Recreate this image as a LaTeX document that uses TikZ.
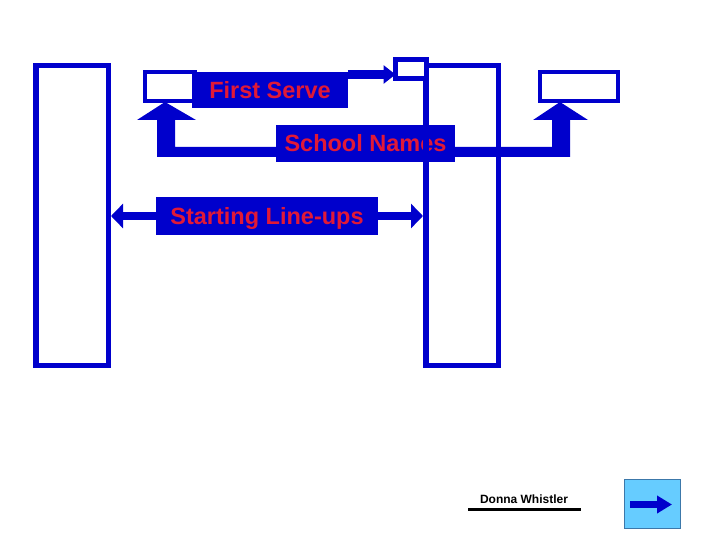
\documentclass[tikz,border=0pt]{standalone}
\usepackage{fontspec}
\setmainfont{Liberation Sans}
\usetikzlibrary{arrows.meta,calc}
\definecolor{pblue}{RGB}{0,0,204}
\definecolor{ptext}{RGB}{225,25,55}
\definecolor{btnfill}{RGB}{102,204,255}
\definecolor{btnedge}{RGB}{60,120,170}
\tikzset{
  tallbox/.style={draw=pblue, line width=5.5pt, minimum width=72.5pt, minimum height=299.5pt, inner sep=0pt, outer sep=2.75pt},
  smallbox/.style={draw=pblue, fill=white, line width=4pt, inner sep=0pt, outer sep=0pt},
  label/.style={fill=pblue, text=ptext, inner sep=0pt, outer sep=0pt, font=\bfseries\fontsize{23.5}{28}\selectfont, text height=17pt, text depth=0pt},
  blockarrow/.style={fill=pblue},
}
\begin{document}
\begin{tikzpicture}[x=1pt,y=-1pt]
\useasboundingbox (0,0) rectangle (720,540);
% small boxes
\node[smallbox, minimum width=50pt, minimum height=29pt] (lb) at (170,86.5) {};
\node[smallbox, minimum width=78pt, minimum height=29pt] (rb) at (579,86.5) {};
% First Serve label
\node[label, minimum width=156pt, minimum height=36pt] (fs) at (270,90) {First Serve};
% bracket block arrow
\fill[blockarrow] (157,157) -- (157,120) -- (137,120) -- (165,102) -- (196,120) -- (175,120)
  -- (175,147) -- (552,147) -- (552,120) -- (533,120) -- (560,102) -- (588,120) -- (570,120)
  -- (570,157) -- cycle;
% School Names label
\node[label, minimum width=179pt, minimum height=37pt] (sn) at (365.5,143.5) {School Names};
% tall rectangles
\node[tallbox] (lr) at (72,215.5) {};
\node[tallbox] (rr) at (462,215.5) {};
% top small box
\node[smallbox, line width=5pt, minimum width=31pt, minimum height=19pt] (tb) at (411,69) {};
% arrow First Serve -> top box
\coordinate (fsa) at ($(fs.north east)+(0,2.5)$);
\draw[pblue, line width=9pt, -{Triangle[width=18pt,length=12pt]}] (fsa) -- (fsa -| tb.west);
% Starting Line-ups
\coordinate (slc) at (267,216);
\draw[pblue, line width=8pt, {Triangle[width=24pt,length=12pt]}-{Triangle[width=24pt,length=12pt]}]
  (slc -| lr.east) -- (slc -| rr.west);
\node[label, minimum width=222pt, minimum height=38pt] (sl) at (slc) {Starting Line-ups};
% author
\node[font=\bfseries\fontsize{12}{14}\selectfont, inner sep=0pt] (dw) at (524,499) {Donna Whistler};
\draw[black, line width=3pt] ($(dw.south)+(-56,6)$) -- ($(dw.south)+(57,6)$);
% button
\node[draw=btnedge, fill=btnfill, line width=1pt, minimum width=56pt, minimum height=49pt, inner sep=0pt] (btn) at (652,503.5) {};
\draw[pblue, line width=7pt, -{Triangle[width=17pt,length=15pt]}] ($(btn.center)+(-22,1)$) -- ($(btn.center)+(20,1)$);
\end{tikzpicture}
\end{document}
